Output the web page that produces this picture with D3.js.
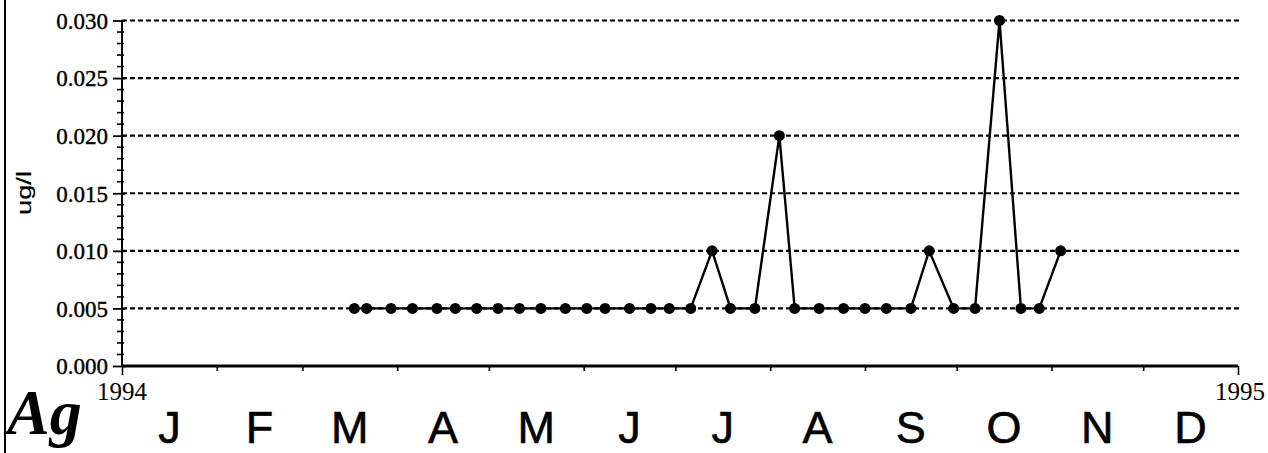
<!DOCTYPE html>
<html><head><meta charset="utf-8">
<script src="https://cdn.jsdelivr.net/npm/d3@7"></script>
<style>html,body{margin:0;padding:0;background:#fff;overflow:hidden}</style>
</head><body><svg id="chart" width="1268" height="453"></svg>
<script>
const sampleDates = ["1994-03-18","1994-03-22","1994-03-30","1994-04-06","1994-04-14","1994-04-20","1994-04-27","1994-05-04","1994-05-11","1994-05-18","1994-05-26","1994-06-02","1994-06-08","1994-06-16","1994-06-23","1994-06-29","1994-07-06","1994-07-13","1994-07-19","1994-07-27","1994-08-04","1994-08-09","1994-08-17","1994-08-25","1994-09-01","1994-09-08","1994-09-16","1994-09-22","1994-09-30","1994-10-07","1994-10-15","1994-10-22","1994-10-28","1994-11-04"];
const agValues = [0.005,0.005,0.005,0.005,0.005,0.005,0.005,0.005,0.005,0.005,0.005,0.005,0.005,0.005,0.005,0.005,0.005,0.010,0.005,0.005,0.020,0.005,0.005,0.005,0.005,0.005,0.005,0.010,0.005,0.005,0.030,0.005,0.005,0.010];
const yTicks = [0.000,0.005,0.010,0.015,0.020,0.025,0.030];
const monthLabels = ["J","F","M","A","M","J","J","A","S","O","N","D"];
const yearLabels = ["1994","1995"];
const yLabel = "ug/l";
const elementLabel = "Ag";

const svg = d3.select("#chart");
const parse = d3.timeParse("%Y-%m-%d");
const data = sampleDates.map((d,i)=>({date:parse(d), v:agValues[i]}));
const t0 = new Date(1994,0,1), t1 = new Date(1995,0,1);
const x = d3.scaleTime().domain([t0,t1]).range([122,1238]);
const y = d3.scaleLinear().domain([0,0.03]).range([366,20.5]);
const serif = "'Liberation Serif','Times New Roman',Times,serif";
const sans = "'Liberation Sans',Arial,Helvetica,sans-serif";

// left border
svg.append("line").attr("x1",5).attr("x2",5).attr("y1",0).attr("y2",453).attr("stroke","#000").attr("stroke-width",2);

// gridlines
svg.append("g").selectAll("line").data(yTicks.filter(d=>d>0)).join("line")
  .attr("x1",122).attr("x2",1242).attr("y1",d=>y(d)).attr("y2",d=>y(d))
  .attr("stroke","#000").attr("stroke-width",2.2).attr("stroke-dasharray","5,3");

// y axis
const yAxis = d3.axisLeft(y).tickValues(yTicks).tickFormat(d3.format(".3f")).tickSize(9).tickPadding(5);
const gy = svg.append("g").attr("transform","translate(122,0)").call(yAxis);
gy.attr("font-size",null).attr("font-family",null);
gy.select(".domain").attr("stroke-width",2).attr("d","M0,"+y(0.03)+"V"+y(0));
gy.selectAll(".tick line").attr("stroke-width",1.8).attr("x2",-9).attr("x1",3);
gy.selectAll("text").style("font-family",serif).style("font-size","23px")
  .attr("fill","#000").attr("stroke","#000").attr("stroke-width",0.4).attr("dy","0.34em");
// minor ticks
const minor = d3.range(0,0.0301,0.001).filter(v=>Math.round(v*1000)%5!==0);
gy.append("g").selectAll("line").data(minor).join("line")
  .attr("x1",-5).attr("x2",2).attr("y1",d=>y(d)).attr("y2",d=>y(d)).attr("stroke","#000").attr("stroke-width",1.6);

// x axis
const months = d3.timeMonth.range(t0, d3.timeMonth.offset(t1,1));
const xAxis = d3.axisBottom(x).tickValues(months).tickFormat("").tickSize(5);
const gx = svg.append("g").attr("transform","translate(0,366)").call(xAxis);
gx.select(".domain").attr("stroke-width",2.8).attr("d","M122,0H1238");
gx.selectAll(".tick line").attr("stroke-width",1.6);
gx.selectAll(".tick line").filter(d=>+d===+t0||+d===+t1).attr("y2",9);

// year labels
svg.append("g").selectAll("text").data([t0,t1]).join("text")
  .attr("x",d=>x(d)+ (+d===+t1?2:0)).attr("y",400).attr("text-anchor","middle")
  .style("font-family",serif).style("font-size","25px")
  .text((d,i)=>yearLabels[i]);

// month labels
svg.append("g").selectAll("text").data(months.slice(0,12)).join("text")
  .attr("x",d=>x(new Date(+d + (d3.timeMonth.offset(d,1)-d)/2))).attr("y",443).attr("text-anchor","middle")
  .style("font-family",sans).style("font-size","45px")
  .attr("stroke","#000").attr("stroke-width",0.6)
  .text((d,i)=>monthLabels[i]);

// y label
svg.append("text").attr("transform","translate(31,193) rotate(-90)").attr("text-anchor","middle")
  .style("font-family",sans).style("font-size","21px")
  .attr("stroke","#000").attr("stroke-width",0.2)
  .attr("textLength",44).attr("lengthAdjust","spacingAndGlyphs").text(yLabel);

// element label
svg.append("text").attr("x",7).attr("y",434)
  .style("font-family",serif).style("font-size","64px")
  .attr("font-weight","bold").attr("font-style","italic").text(elementLabel);

// line
const line = d3.line().x(d=>x(d.date)).y(d=>y(d.v));
svg.append("path").datum(data).attr("d",line).attr("fill","none").attr("stroke","#000").attr("stroke-width",2.4);
svg.append("g").selectAll("circle").data(data).join("circle")
  .attr("cx",d=>x(d.date)).attr("cy",d=>y(d.v)).attr("r",5.5).attr("fill","#000");
</script></body></html>
